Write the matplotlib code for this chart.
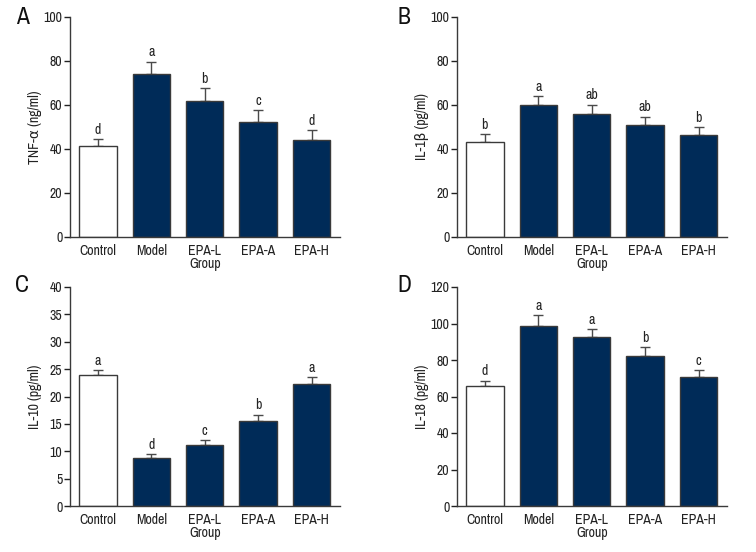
import numpy as np
import matplotlib.pyplot as plt
from matplotlib import font_manager

# the reference uses a condensed sans; take a narrow face if one is installed
faces = font_manager.fontManager.ttflist
narrow = [f.name for f in faces if "Narrow" in f.name or "Condensed" in f.name]
cond_dejavu = [f for f in faces if f.name == "DejaVu Sans" and f.stretch == "condensed"]
if narrow:
    plt.rcParams['font.family'] = [narrow[0], 'DejaVu Sans']
    fs = 10
elif cond_dejavu:
    plt.rcParams['font.family'] = ['DejaVu Sans']
    plt.rcParams['font.stretch'] = 'condensed'
    fs = 9
else:
    plt.rcParams['font.family'] = ['Liberation Sans', 'DejaVu Sans']
    fs = 8.5

groups = ["Control", "Model", "EPA-L", "EPA-A", "EPA-H"]

tnf = [41.3, 74.0, 61.6, 52.1, 43.9]
tnf_err = [3.2, 5.7, 6.0, 5.7, 4.7]
tnf_sig = ["d", "a", "b", "c", "d"]

il1b = [43.2, 59.8, 56.0, 50.9, 46.5]
il1b_err = [3.6, 4.4, 4.2, 3.8, 3.5]
il1b_sig = ["b", "a", "ab", "ab", "b"]

il10 = [23.9, 8.8, 11.2, 15.6, 22.2]
il10_err = [0.9, 0.7, 0.9, 1.1, 1.3]
il10_sig = ["a", "d", "c", "b", "a"]

il18 = [65.6, 98.8, 92.4, 82.0, 70.8]
il18_err = [3.1, 5.7, 4.4, 4.9, 3.7]
il18_sig = ["d", "a", "a", "b", "c"]

panels = [
    ("A", tnf, tnf_err, tnf_sig, "TNF-α (ng/ml)", 100, 20),
    ("B", il1b, il1b_err, il1b_sig, "IL-1β (pg/ml)", 100, 20),
    ("C", il10, il10_err, il10_sig, "IL-10 (pg/ml)", 40, 5),
    ("D", il18, il18_err, il18_sig, "IL-18 (pg/ml)", 120, 20),
]

W, H = 756, 552
# axes boxes in pixels: left, top, right, bottom
boxes = [(70, 17, 340, 237), (457, 17, 727, 237),
         (70, 287, 340, 506), (457, 287, 727, 506)]
letter_x = [22, 404, 22, 404]
letter_y = [17, 17, 286, 286]

navy = "#002b58"
edge = "#3a3a3a"
txt = "#222222"

fig = plt.figure(figsize=(W / 100, H / 100), dpi=100)

for i, (letter, vals, errs, sig, ylab, ymax, step) in enumerate(panels):
    l, t, r, b = boxes[i]
    ax = fig.add_axes([l / W, 1 - b / H, (r - l) / W, (b - t) / H])
    x = np.arange(len(groups))
    colors = ["white"] + [navy] * (len(groups) - 1)
    ax.bar(x, vals, width=0.7, color=colors, edgecolor=edge, linewidth=1.0, zorder=2)
    ax.errorbar(x, vals, yerr=[np.zeros(len(vals)), errs], fmt="none",
                ecolor="#4a4a4a", elinewidth=1.0, capsize=3.3, capthick=1.0, zorder=1)
    for xi, v, e, s in zip(x, vals, errs, sig):
        ax.text(xi, v + e + ymax * 0.01, s, ha="center", va="bottom", fontsize=fs, color=txt)
    ax.set_xlim(-0.52, 4.53)
    ax.set_ylim(0, ymax)
    ax.set_yticks(np.arange(0, ymax + 0.1, step))
    ax.set_xticks(x)
    ax.set_xticklabels(groups)
    ax.tick_params(axis="x", length=0, labelsize=fs, pad=5, colors=txt)
    ax.tick_params(axis="y", length=4, width=1, labelsize=fs, pad=1.5, colors=txt)
    for sp in ["top", "right"]:
        ax.spines[sp].set_visible(False)
    for sp in ["left", "bottom"]:
        ax.spines[sp].set_color(edge)
        ax.spines[sp].set_linewidth(1.0)
    ax.set_ylabel(ylab, fontsize=fs, color=txt)
    ax.yaxis.set_label_coords(-28 / (r - l), 0.5)
    ax.set_xlabel("Group", fontsize=fs, color=txt)
    ax.xaxis.set_label_coords(0.5, -27 / (b - t))
    ax.xaxis.label.set_va("center")
    fig.text(letter_x[i] / W, 1 - letter_y[i] / H, letter, fontsize=17,
             ha="center", va="center", color="#111111")

fig.savefig("out.png", dpi=100)
